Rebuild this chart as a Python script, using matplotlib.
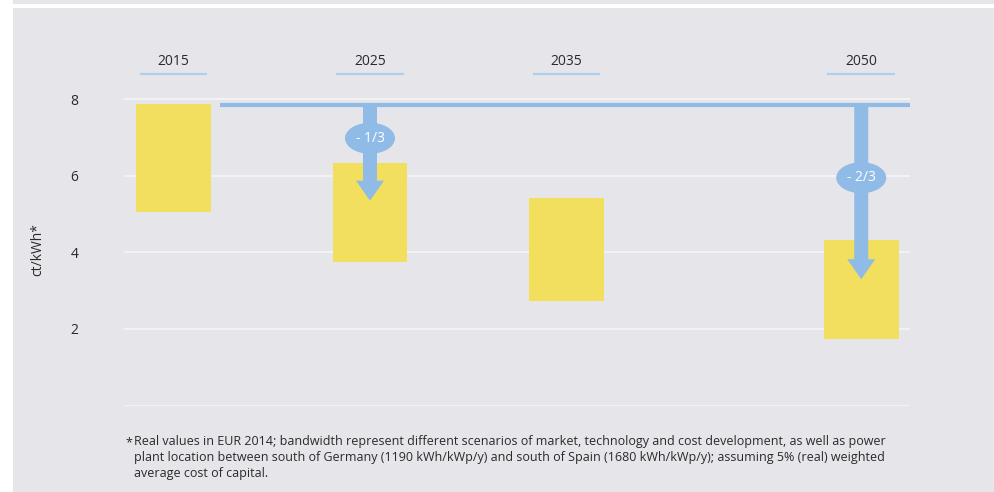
import matplotlib
matplotlib.use("Agg")
import matplotlib.pyplot as plt
from matplotlib.patches import Rectangle, Ellipse, FancyArrow
from matplotlib import font_manager

# ---- data ----
years = [2015, 2025, 2035, 2050]
year_labels = ["2015", "2025", "2035", "2050"]
cost_high = [7.87, 6.33, 5.42, 4.32]
cost_low = [5.05, 3.75, 2.73, 1.74]
yticks = [2, 4, 6, 8]
ref_level = 7.85
arrow_years = [2025, 2050]
arrow_tips = [5.35, 3.30]
badge_values = [6.98, 5.95]
badge_labels = ["- 1/3", "- 2/3"]
ylabel = "ct/kWh*"
footnote = ("Real values in EUR 2014; bandwidth represent different scenarios of market, technology and cost development, as well as power\n"
            "plant location between south of Germany (1190 kWh/kWp/y) and south of Spain (1680 kWh/kWp/y); assuming 5% (real) weighted\n"
            "average cost of capital.")

# ---- fonts ----
names = {f.name for f in font_manager.fontManager.ttflist}
main_font = "Open Sans" if "Open Sans" in names else "DejaVu Sans"

YELLOW = "#f2df5e"
BLUE = "#8fbbe6"
BG = "#e6e5ea"
TXT = "#2a2a2a"

W, H = 995, 492
fig = plt.figure(figsize=(W / 100, H / 100), dpi=100)
fig.patch.set_facecolor("white")
# gray panels
fig.patches.append(Rectangle((13 / W, 1 - 4 / H), 1, 4 / H, transform=fig.transFigure,
                             facecolor=BG, edgecolor="none", zorder=-5))
fig.patches.append(Rectangle((13 / W, 0), 1, 1 - 8 / H, transform=fig.transFigure,
                             facecolor=BG, edgecolor="none", zorder=-5))

left, right = 124, 910
y0px, ytop = 405.6, 80
ax = fig.add_axes([left / W, (H - y0px) / H, (right - left) / W, (y0px - ytop) / H])
ax.set_zorder(2)
ax.set_facecolor("none")
px_per_year = 19.65
x0 = 2015 - (173.5 - left) / px_per_year
x1 = 2015 + (right - 173.5) / px_per_year
ax.set_xlim(x0, x1)
ypx = 38.3
ax.set_ylim(0, (y0px - ytop) / ypx)
for s in ax.spines.values():
    s.set_visible(False)
ax.set_xticks([])
ax.set_yticks(yticks)
ax.set_yticklabels([str(t) for t in yticks], fontsize=10, color=TXT, family=main_font)
ax.tick_params(axis="y", length=0, pad=33)
for g in [0] + yticks:
    ax.axhline(g, color="#f6f6f9", lw=1.1, zorder=1)

bar_w = 75 / px_per_year
ax.bar(years, [h - l for h, l in zip(cost_high, cost_low)], bottom=cost_low,
       width=bar_w, color=YELLOW, zorder=2)

# reference line
ax.plot([2015 + 46.5 / px_per_year, x1], [ref_level, ref_level], color=BLUE, lw=3,
        solid_capstyle="butt", zorder=3)

# arrows & badges
for yr, tip, bv, bl in zip(arrow_years, arrow_tips, badge_values, badge_labels):
    ax.add_patch(FancyArrow(yr, ref_level, 0, tip - ref_level, width=14 / px_per_year,
                            head_width=28 / px_per_year, head_length=20 / ypx,
                            length_includes_head=True, color=BLUE, lw=0, zorder=4))
    ax.add_patch(Ellipse((yr, bv), 50 / px_per_year, 31 / ypx, facecolor=BLUE,
                         edgecolor="none", zorder=5))
    ax.text(yr, bv, bl, ha="center", va="center", color="white", fontsize=10,
            family=main_font, zorder=6)

# year headers
for yr, lab in zip(years, year_labels):
    ax.text(yr, (y0px - 62) / ypx, lab, ha="center", va="center", fontsize=10,
            color=TXT, family=main_font, clip_on=False)
    ax.plot([yr - 33 / px_per_year, yr + 33 / px_per_year], [(y0px - 74) / ypx] * 2,
            color="#add0ee", lw=1.6, clip_on=False)

ax.set_ylabel(ylabel, fontsize=10, color=TXT, family=main_font)
ax.yaxis.set_label_coords((45 - left) / (right - left), (y0px - 250) / (y0px - ytop))

# footnote
fig.text(125 / W, 1 - 436 / H, "*", fontsize=9, color=TXT, family=main_font, va="top")
fig.text(134 / W, 1 - 435 / H, footnote, fontsize=9, color=TXT, family=main_font,
         va="top", ha="left", linespacing=1.3)

fig.savefig("out.png", dpi=100, facecolor=fig.get_facecolor())
